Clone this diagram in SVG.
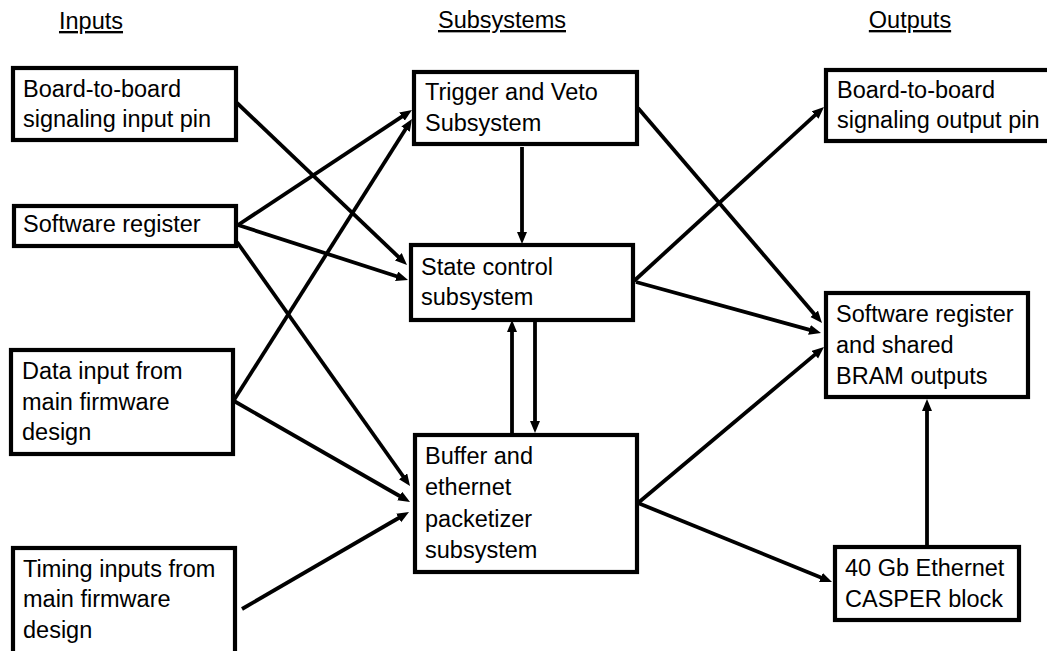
<svg xmlns="http://www.w3.org/2000/svg" width="1047" height="651" viewBox="0 0 1047 651">
  <style>
    text { font-family: "Liberation Sans", Arial, sans-serif; font-size: 23.5px; fill: #000; }
    .hdr { text-anchor: middle; text-decoration: underline; }
    .box { fill: #fff; stroke: #000; stroke-width: 4.2; }
    .edge { fill: none; stroke: #000; stroke-width: 3.8; marker-end: url(#arrow); }
  </style>
  <defs>
    <marker id="arrow" markerUnits="userSpaceOnUse" markerWidth="13" markerHeight="11" refX="4" refY="5" orient="auto" viewBox="0 0 13 11">
      <path d="M0,0 L12,5 L0,10 z" fill="#000"/>
    </marker>
  </defs>

  <rect width="1047" height="651" fill="#fff"/>

  <!-- column headings -->
  <g id="headings">
    <text class="hdr" x="91" y="29">Inputs</text>
    <text class="hdr" x="502" y="28">Subsystems</text>
    <text class="hdr" x="910" y="28">Outputs</text>
  </g>

  <!-- inputs -->
  <g id="in-board">
    <rect class="box" x="13" y="68" width="223" height="72"/>
    <text x="23" y="97">Board-to-board</text>
    <text x="23" y="127">signaling input pin</text>
  </g>
  <g id="in-swreg">
    <rect class="box" x="14" y="206" width="222" height="40"/>
    <text x="23" y="232">Software register</text>
  </g>
  <g id="in-data">
    <rect class="box" x="11" y="350" width="222" height="104"/>
    <text x="22" y="379">Data input from</text>
    <text x="22" y="410">main firmware</text>
    <text x="22" y="440">design</text>
  </g>
  <g id="in-timing">
    <rect class="box" x="13" y="548" width="222" height="120"/>
    <text x="23" y="577">Timing inputs from</text>
    <text x="23" y="607">main firmware</text>
    <text x="23" y="638">design</text>
  </g>

  <!-- subsystems -->
  <g id="sub-trigger">
    <rect class="box" x="414" y="72" width="223" height="72"/>
    <text x="425" y="100">Trigger and Veto</text>
    <text x="425" y="131">Subsystem</text>
  </g>
  <g id="sub-state">
    <rect class="box" x="411" y="245" width="222" height="75"/>
    <text x="421" y="275">State control</text>
    <text x="421" y="305">subsystem</text>
  </g>
  <g id="sub-buffer">
    <rect class="box" x="415" y="435" width="222" height="137"/>
    <text x="425" y="464">Buffer and</text>
    <text x="425" y="495">ethernet</text>
    <text x="425" y="527">packetizer</text>
    <text x="425" y="558">subsystem</text>
  </g>

  <!-- outputs -->
  <g id="out-board">
    <rect class="box" x="826" y="70" width="230" height="71"/>
    <text x="837" y="98">Board-to-board</text>
    <text x="837" y="128">signaling output pin</text>
  </g>
  <g id="out-swreg">
    <rect class="box" x="826" y="293" width="202" height="104"/>
    <text x="836" y="322">Software register</text>
    <text x="836" y="353">and shared</text>
    <text x="836" y="384">BRAM outputs</text>
  </g>
  <g id="out-40gbe">
    <rect class="box" x="835" y="547" width="184" height="73"/>
    <text x="845" y="576">40 Gb Ethernet</text>
    <text x="845" y="607">CASPER block</text>
  </g>

  <!-- connectors -->
  <g id="connectors">
    <path class="edge" d="M237,103 L401.2,259.5"/>
    <path class="edge" d="M238,225 L405.3,114.4"/>
    <path class="edge" d="M234,400 L407.7,125.8"/>
    <path class="edge" d="M238,225 L400.4,277.5"/>
    <path class="edge" d="M237,242 L405.4,479.5"/>
    <path class="edge" d="M234,401 L403.1,498"/>
    <path class="edge" d="M242,609 L402.1,516"/>
    <path class="edge" d="M522,147 L522,236"/>
    <path class="edge" d="M512,433 L512,328"/>
    <path class="edge" d="M535,322 L535,425"/>
    <path class="edge" d="M638,108 L816.8,316.9"/>
    <path class="edge" d="M634,281 L818.1,112.4"/>
    <path class="edge" d="M636,282 L813.3,330.9"/>
    <path class="edge" d="M638,503 L817.9,352.1"/>
    <path class="edge" d="M638,503 L824.6,579"/>
    <path class="edge" d="M927,545 L927,407"/>
  </g>
</svg>
